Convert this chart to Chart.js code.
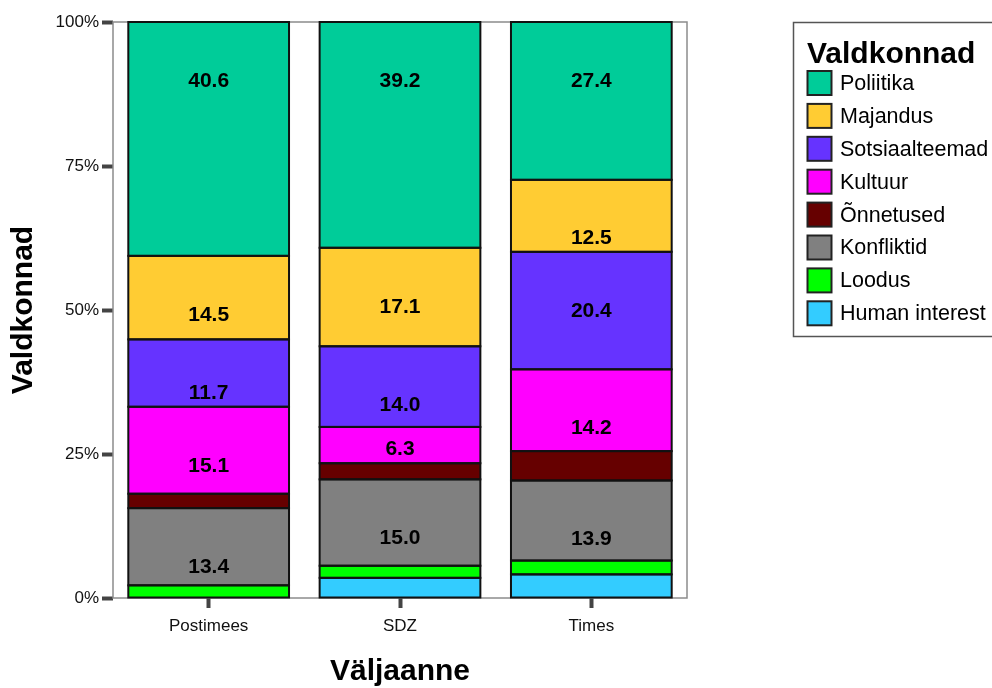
<!DOCTYPE html>
<html>
<head>
<meta charset="utf-8">
<script src="https://cdn.jsdelivr.net/npm/chart.js@4.4.0/dist/chart.umd.min.js"></script>
<style>
html,body{margin:0;padding:0;background:#fff;}
#wrap{width:992px;height:688px;position:relative;}
</style>
</head>
<body>
<div id="wrap"><canvas id="c" width="992" height="688"></canvas></div>
<script>
const categories = ["Postimees", "SDZ", "Times"];
const seriesNames = ["Poliitika", "Majandus", "Sotsiaalteemad", "Kultuur", "Õnnetused", "Konfliktid", "Loodus", "Human interest"];
const poliitika   = [40.6, 39.2, 27.4];
const majandus    = [14.5, 17.1, 12.5];
const sotsiaal    = [11.7, 14.0, 20.4];
const kultuur     = [15.1, 6.3, 14.2];
const onnetused   = [2.5, 2.8, 5.1];
const konfliktid  = [13.4, 15.0, 13.9];
const loodus      = [2.2, 2.1, 2.4];
const humanInt    = [0.0, 3.5, 4.1];
const yTicks = [0, 25, 50, 75, 100];
const colors = ["#00CC99", "#FFCC33", "#6633FF", "#FF00FF", "#660000", "#808080", "#00FF00", "#33CCFF"];
const legendTitle = "Valdkonnad";
const xTitle = "Väljaanne";
const yTitle = "Valdkonnad";

const seriesValues = [poliitika, majandus, sotsiaal, kultuur, onnetused, konfliktid, loodus, humanInt];
// stack order bottom-to-top: Human interest ... Poliitika
const datasets = [];
for (let i = seriesNames.length - 1; i >= 0; i--) {
  datasets.push({
    label: seriesNames[i],
    data: seriesValues[i],
    backgroundColor: colors[i],
    borderWidth: 0
  });
}

const FONT = "'Liberation Sans', Arial, sans-serif";

const framePlugin = {
  id: "frame",
  beforeDatasetsDraw(chart) {
    const a = chart.chartArea, ctx = chart.ctx;
    ctx.save();
    ctx.strokeStyle = "#8c8c8c";
    ctx.lineWidth = 1.5;
    ctx.strokeRect(a.left, a.top, a.right - a.left, a.bottom - a.top);
    ctx.restore();
  }
};

const outlinePlugin = {
  id: "segOutline",
  afterDatasetsDraw(chart) {
    const ctx = chart.ctx;
    ctx.save();
    ctx.strokeStyle = "#111";
    ctx.lineWidth = 2;
    chart.data.datasets.forEach((ds, di) => {
      const meta = chart.getDatasetMeta(di);
      meta.data.forEach((el, i) => {
        if (!ds.data[i]) return;
        const top = Math.min(el.y, el.base), bot = Math.max(el.y, el.base);
        ctx.strokeRect(el.x - el.width / 2, top, el.width, bot - top);
      });
    });
    ctx.restore();
  }
};

const labelPlugin = {
  id: "segLabels",
  afterDatasetsDraw(chart) {
    const ctx = chart.ctx;
    ctx.save();
    ctx.font = "bold 21px " + FONT;
    ctx.fillStyle = "#000";
    ctx.textAlign = "center";
    ctx.textBaseline = "middle";
    chart.data.datasets.forEach((ds, di) => {
      const meta = chart.getDatasetMeta(di);
      meta.data.forEach((el, i) => {
        const v = ds.data[i];
        if (v < 6) return;
        const top = Math.min(el.y, el.base), bot = Math.max(el.y, el.base);
        const y = Math.min(top + 59, bot - 14);
        ctx.fillText(v.toFixed(1), el.x, y);
      });
    });
    ctx.restore();
  }
};

const legendPlugin = {
  id: "boxLegend",
  afterDraw(chart) {
    const ctx = chart.ctx;
    ctx.save();
    ctx.strokeStyle = "#555";
    ctx.lineWidth = 1.5;
    ctx.strokeRect(793.5, 22.5, 220, 314);
    ctx.fillStyle = "#000";
    ctx.font = "bold 30px " + FONT;
    ctx.textAlign = "left";
    ctx.textBaseline = "middle";
    ctx.fillText(legendTitle, 807, 55);
    ctx.font = "21.5px " + FONT;
    for (let i = 0; i < seriesNames.length; i++) {
      const cy = 83 + i * 32.9;
      ctx.fillStyle = colors[i];
      ctx.fillRect(807.5, cy - 12, 24, 24);
      ctx.strokeStyle = "#222";
      ctx.lineWidth = 2;
      ctx.strokeRect(807.5, cy - 12, 24, 24);
      ctx.fillStyle = "#000";
      ctx.fillText(seriesNames[i], 840, cy + 1);
    }
    ctx.restore();
  }
};

new Chart(document.getElementById("c"), {
  type: "bar",
  data: { labels: categories, datasets },
  options: {
    responsive: false,
    animation: false,
    devicePixelRatio: 1,
    layout: { padding: { top: 22, right: 305, left: 0, bottom: 0 } },
    plugins: { legend: { display: false }, tooltip: { enabled: false } },
    datasets: { bar: { categoryPercentage: 1.0, barPercentage: 0.84 } },
    scales: {
      x: {
        stacked: true,
        offset: true,
        grid: { display: true, offset: false, drawOnChartArea: false, drawTicks: true, tickLength: 10, tickWidth: 4, tickColor: "#444" },
        border: { display: false },
        ticks: { color: "#111", font: { family: FONT, size: 17 }, padding: 8, maxRotation: 0 },
        title: { display: true, text: xTitle, color: "#000", font: { family: FONT, size: 30, weight: "bold" }, padding: { top: 0, bottom: -2 } },
        afterFit(scale) { scale.height = 90; }
      },
      y: {
        stacked: true,
        min: 0, max: 100,
        afterBuildTicks(scale) { scale.ticks = yTicks.map(v => ({ value: v })); },
        grid: { display: true, drawOnChartArea: false, drawTicks: true, tickLength: 11, tickWidth: 4, tickColor: "#444" },
        border: { display: false },
        ticks: { color: "#111", font: { family: FONT, size: 17 }, padding: 3, callback: v => v + "%" },
        title: { display: true, text: yTitle, color: "#000", font: { family: FONT, size: 30, weight: "bold" }, padding: { top: 6, bottom: 0 } },
        afterFit(scale) { scale.width = 113; }
      }
    }
  },
  plugins: [framePlugin, outlinePlugin, labelPlugin, legendPlugin]
});
</script>
</body>
</html>
